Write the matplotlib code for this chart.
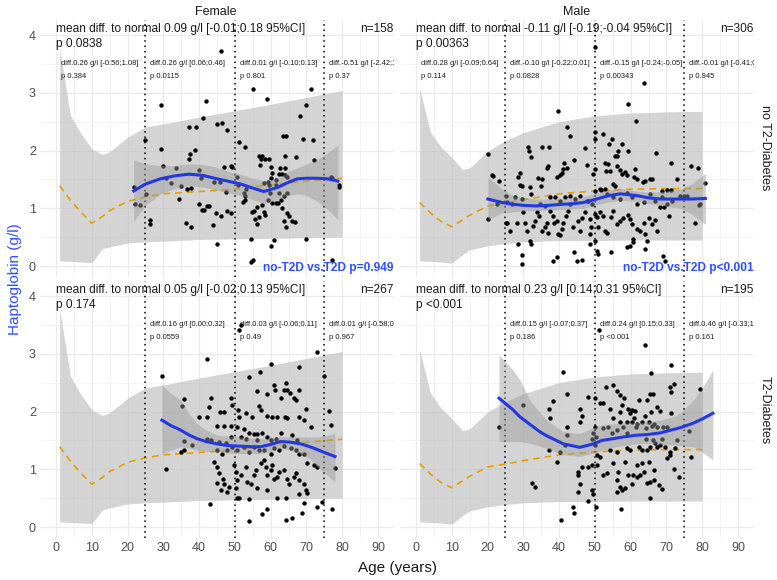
import numpy as np
import matplotlib
matplotlib.use("Agg")
import matplotlib.pyplot as plt
from matplotlib.ticker import MultipleLocator

plt.rcParams['font.family'] = ['Liberation Sans', 'DejaVu Sans']

# ---- reference (normal population) curves ----
ref_age = [1, 4, 7, 10, 13, 15, 20, 25, 30, 40, 50, 60, 70, 80]
ref_f_med = [1.39, 1.14, 0.93, 0.74, 0.86, 0.96, 1.12, 1.20, 1.25, 1.29, 1.33, 1.41, 1.47, 1.52]
ref_f_lo = [0.09, 0.08, 0.07, 0.06, 0.30, 0.33, 0.40, 0.42, 0.43, 0.46, 0.47, 0.48, 0.49, 0.50]
ref_f_hi = [3.77, 2.61, 2.29, 2.03, 1.93, 1.98, 2.23, 2.41, 2.46, 2.58, 2.69, 2.80, 2.92, 3.04]
ref_m_med = [1.10, 0.92, 0.77, 0.68, 0.80, 0.88, 1.04, 1.09, 1.15, 1.25, 1.30, 1.33, 1.34, 1.34]
ref_m_lo = [0.09, 0.08, 0.07, 0.05, 0.20, 0.28, 0.35, 0.39, 0.42, 0.44, 0.44, 0.45, 0.45, 0.45]
ref_m_hi = [3.07, 2.32, 2.06, 1.88, 1.67, 1.70, 1.99, 2.17, 2.31, 2.50, 2.60, 2.65, 2.67, 2.68]

# ---- loess fits with CI ----
fit_f0_age = [21.7, 25, 29.2, 33, 37.1, 41, 45, 48, 51.6, 55, 58.1, 61.9, 65, 67.5, 70, 73.1, 76, 78.8]
fit_f0 = [1.30, 1.42, 1.51, 1.56, 1.59, 1.57, 1.51, 1.47, 1.42, 1.35, 1.29, 1.36, 1.45, 1.51, 1.52, 1.52, 1.51, 1.47]
fit_f0_hi = [1.84, 1.77, 1.74, 1.74, 1.77, 1.76, 1.71, 1.64, 1.59, 1.52, 1.48, 1.52, 1.64, 1.70, 1.76, 1.85, 1.96, 2.10]
fit_f0_lo = [0.78, 1.05, 1.25, 1.34, 1.39, 1.37, 1.31, 1.27, 1.22, 1.15, 1.08, 1.15, 1.22, 1.25, 1.22, 1.12, 0.98, 0.80]

fit_m0_age = [20.1, 24, 27.1, 30, 33.7, 37, 41.2, 44, 46.8, 50.5, 54, 57.1, 61.7, 65, 68.3, 73.9, 77, 80.9]
fit_m0 = [1.16, 1.10, 1.07, 1.05, 1.04, 1.05, 1.07, 1.08, 1.10, 1.16, 1.22, 1.25, 1.22, 1.18, 1.16, 1.16, 1.16, 1.17]
fit_m0_hi = [1.54, 1.34, 1.22, 1.18, 1.16, 1.16, 1.17, 1.18, 1.20, 1.27, 1.32, 1.34, 1.30, 1.28, 1.29, 1.33, 1.42, 1.61]
fit_m0_lo = [0.80, 0.92, 0.94, 0.95, 0.96, 0.97, 0.98, 0.99, 1.00, 1.06, 1.11, 1.14, 1.12, 1.08, 1.05, 1.00, 0.90, 0.72]

fit_f1_age = [29.6, 32, 34.8, 37, 39.4, 42, 45, 48, 51.6, 55, 57.2, 60, 62.8, 65.5, 68.4, 71, 73.1, 75.5, 78]
fit_f1 = [1.85, 1.76, 1.68, 1.60, 1.53, 1.48, 1.44, 1.41, 1.40, 1.39, 1.39, 1.43, 1.48, 1.47, 1.44, 1.39, 1.34, 1.28, 1.22]
fit_f1_hi = [2.46, 2.32, 2.20, 1.98, 1.79, 1.68, 1.59, 1.57, 1.56, 1.54, 1.53, 1.54, 1.56, 1.56, 1.56, 1.56, 1.56, 1.58, 1.62]
fit_f1_lo = [1.27, 1.33, 1.39, 1.37, 1.33, 1.31, 1.30, 1.28, 1.27, 1.27, 1.27, 1.31, 1.36, 1.33, 1.27, 1.18, 1.04, 0.92, 0.78]

fit_m1_age = [23.2, 27.1, 29.0, 31.8, 34.6, 36.5, 41.2, 45.8, 49.6, 52, 55.2, 58, 61.7, 64.5, 68.3, 72, 73.9, 77.6, 80, 83.0]
fit_m1 = [2.23, 2.03, 1.91, 1.78, 1.65, 1.58, 1.44, 1.38, 1.44, 1.50, 1.53, 1.56, 1.59, 1.60, 1.63, 1.69, 1.72, 1.80, 1.87, 1.97]
fit_m1_hi = [2.98, 2.72, 2.55, 2.20, 1.98, 1.85, 1.65, 1.62, 1.72, 1.77, 1.79, 1.80, 1.81, 1.82, 1.85, 1.91, 1.98, 2.20, 2.40, 2.72]
fit_m1_lo = [1.48, 1.48, 1.48, 1.45, 1.40, 1.36, 1.25, 1.22, 1.28, 1.33, 1.38, 1.41, 1.44, 1.45, 1.43, 1.42, 1.41, 1.39, 1.30, 1.16]

# ---- observations (age, haptoglobin) ----
f0_age = [46.0, 29.2, 41.8, 55.0, 59.1, 71.3, 70.0, 68.2, 41.1, 37.1, 39.0, 45.0, 46.3, 47.8, 25.0, 63.5, 64.2, 69.1,
          71.9, 51.1, 52.8, 29.2, 38.8, 37.4, 37.1, 56.8, 57.6, 58.5, 59.5, 57.2, 57.1, 64.0, 67.0, 72.2, 29.8, 33.4,
          39.9, 46.9, 48.8, 60.0, 60.4, 62.5, 64.0, 62.3, 63.2, 64.0, 64.5, 76.8, 79.1, 21.7, 22.1, 23.5, 26.4, 26.2,
          25.2, 34.8, 37.6, 39.9, 40.8, 41.5, 42.2, 34.3, 36.2, 37.8, 44.6, 46.0, 43.9, 47.7, 48.8, 44.9, 45.7, 47.4,
          52.6, 52.9, 52.7, 52.4, 53.0, 55.4, 54.9, 56.3, 57.7, 58.1, 55.6, 56.8, 56.3, 58.3, 59.3, 60.4, 61.4, 59.9,
          60.2, 61.4, 61.4, 62.3, 63.7, 62.9, 64.6, 62.0, 63.2, 64.5, 65.2, 66.1, 66.8, 63.8, 64.3, 54.4, 60.0, 60.9,
          69.8, 54.4, 55.2, 77.1, 77.2, 79.0, 59.2, 59.6, 58.2, 50.5, 51.0, 49.2, 30.6, 32.2, 36.6, 40.4, 44.1, 42.7]
f0_hp = [3.73, 2.78, 2.86, 3.06, 2.90, 3.07, 2.78, 2.60, 2.56, 2.41, 2.41, 2.46, 2.47, 2.35, 2.19, 2.26, 2.25, 2.20,
         2.19, 2.14, 2.06, 2.03, 2.01, 1.94, 1.86, 1.91, 1.91, 1.86, 1.85, 1.86, 1.75, 1.90, 1.88, 1.83, 1.74, 1.69,
         1.66, 1.71, 1.73, 1.71, 1.61, 1.70, 1.70, 1.59, 1.59, 1.58, 1.55, 1.55, 1.40, 1.36, 1.08, 1.06, 0.79, 0.72,
         1.25, 1.39, 1.35, 1.07, 0.97, 0.97, 1.04, 1.16, 0.74, 0.67, 0.91, 0.87, 0.71, 0.96, 0.91, 0.38, 1.45, 1.28,
         1.27, 1.21, 1.15, 1.10, 1.34, 0.96, 0.93, 1.02, 1.05, 0.93, 0.82, 0.85, 0.73, 0.89, 1.15, 1.09, 1.09, 1.26,
         1.52, 1.49, 1.40, 1.27, 1.22, 1.15, 1.27, 1.09, 1.00, 0.92, 0.87, 0.78, 0.77, 0.78, 0.68, 0.46, 0.35, 0.45,
         0.46, 0.07, 0.10, 0.10, 1.52, 1.36, 1.45, 1.41, 1.43, 1.54, 1.40, 1.71, 1.52, 1.43, 1.33, 1.53, 1.45, 1.04]

m0_age = [50.0, 63.6, 59.2, 61.5, 39.6, 42.3, 43.0, 50.0, 50.0, 52.4, 54.9, 54.0, 57.5, 56.6, 55.7, 56.3, 59.4, 67.1,
          71.3, 76.9, 78.7, 80.9, 20.1, 21.4, 31.4, 31.6, 32.1, 35.1, 37.1, 29.0, 28.5, 29.0, 29.5, 31.8, 32.1, 34.2,
          35.1, 34.8, 36.5, 37.0, 39.3, 40.7, 41.0, 40.2, 41.4, 42.1, 44.2, 47.2, 47.7, 49.6, 50.0, 52.8, 53.8, 53.1,
          54.2, 56.1, 56.9, 57.5, 58.5, 58.9, 55.2, 55.7, 52.8, 51.6, 61.3, 61.0, 61.7, 63.4, 64.1, 65.5, 66.1, 73.0,
          68.7, 70.3, 71.3, 74.8, 79.0, 78.1, 20.1,
          25.3, 26.2, 28.1, 28.5, 29.5, 30.4, 30.9, 31.8, 32.1, 32.8, 33.2, 33.7, 34.4, 35.1, 36.0, 36.5, 37.0, 37.4,
          38.4, 38.5, 39.3, 39.8, 40.2, 40.7, 41.2, 41.9, 42.6, 43.0, 44.0, 45.4, 45.8, 46.3, 47.2, 48.0, 48.6, 48.9,
          48.6, 49.9, 50.7, 51.0, 50.0, 51.4, 52.4, 52.8, 53.3, 54.4, 55.2, 56.3, 57.1, 58.0, 59.4, 59.9, 60.3, 60.8,
          60.6, 58.9, 59.7, 61.7, 62.7, 63.6, 64.1, 64.5, 63.9, 65.0, 65.9, 66.9, 67.3, 68.3, 69.4, 70.6, 69.0, 69.7,
          39.3, 38.2, 44.2, 44.9, 46.3, 48.6, 50.5, 51.0, 54.4,
          25.3, 26.7, 27.6, 29.5, 30.0, 34.6, 36.0, 37.4, 38.8, 40.2, 41.6, 43.0, 44.4, 45.8, 47.7, 49.1, 50.0, 51.4,
          53.3, 55.2, 57.1, 58.9, 60.3, 61.7, 63.6, 65.5, 66.9, 68.7, 70.1, 71.5, 73.9, 75.7, 79.5,
          21.1, 23.2, 22.5, 25.1, 25.1, 29.5]
m0_hp = [3.80, 3.17, 2.81, 2.51, 2.68, 2.41, 2.26, 2.32, 2.20, 2.28, 2.20, 2.12, 2.12, 2.00, 1.91, 1.90, 1.99, 1.96,
         1.78, 1.73, 1.70, 1.44, 1.94, 1.56, 2.06, 2.00, 1.88, 2.06, 2.06, 1.61, 1.54, 1.41, 1.39, 1.36, 1.25, 1.52,
         1.51, 1.38, 1.70, 1.74, 1.54, 1.61, 1.68, 1.58, 1.79, 1.70, 1.84, 2.04, 1.75, 1.59, 1.68, 1.78, 1.77, 1.65,
         1.64, 1.74, 1.66, 1.59, 1.62, 1.57, 1.42, 1.39, 1.33, 1.32, 1.68, 1.54, 1.51, 1.45, 1.48, 1.51, 1.51, 1.50,
         1.30, 1.32, 1.32, 1.21, 1.06, 0.75, 0.81,
         0.75, 0.61, 0.74, 0.38, 0.19, 0.75, 0.61, 0.43, 0.38, 0.70, 0.78, 0.93, 0.87, 0.61, 0.67, 0.74, 0.58, 0.96,
         0.87, 0.75, 0.78, 0.55, 0.54, 0.64, 0.75, 0.87, 0.96, 1.07, 0.67, 0.78, 0.61, 0.84, 0.93, 1.13, 0.81, 0.67,
         0.55, 0.90, 0.85, 0.67, 0.44, 0.93, 0.87, 0.61, 0.58, 0.85, 0.96, 0.72, 0.78, 0.84, 0.89, 0.81, 0.72, 0.46,
         0.41, 0.33, 0.35, 0.64, 0.61, 0.74, 0.55, 0.44, 0.29, 0.84, 0.72, 0.79, 0.61, 1.03, 1.02, 0.87, 0.17, 0.09,
         0.15, 0.09, 0.25, 0.09, 0.10, 0.38, 0.26, 0.21, 0.25,
         1.10, 1.07, 1.19, 1.16, 0.93, 1.07, 1.04, 1.19, 1.19, 1.13, 1.19, 1.22, 1.16, 1.22, 1.13, 1.07, 1.30, 1.33,
         1.25, 1.19, 1.16, 1.27, 1.19, 1.07, 1.10, 1.25, 1.13, 1.19, 1.07, 1.13, 1.22, 1.22, 1.07,
         1.57, 1.48, 1.07, 1.22, 0.75, 0.03]

f1_age = [29.6, 30.8, 42.1, 51.1, 51.6, 73.1, 75.0, 60.0, 68.0, 57.0, 53.9, 64.2, 63.7, 64.7, 65.4, 63.0, 66.5, 67.0,
          68.0, 61.0, 61.1, 59.1, 56.1, 48.8, 43.2, 42.7, 35.9, 35.2, 39.9, 42.1, 45.8, 46.9, 49.3, 50.8, 51.1, 53.0,
          54.9, 56.7, 57.2, 59.1, 60.5, 61.9, 63.9, 64.7, 68.0, 69.8, 69.4, 71.2, 76.4, 77.0, 45.0, 46.9, 48.8, 50.7,
          52.5, 53.9, 55.3, 56.3, 57.7, 59.1, 60.0, 61.4, 62.8, 66.1, 67.5, 35.7, 42.2, 43.2, 34.8, 35.9, 38.0, 44.1,
          45.0, 46.5, 47.9, 49.3, 50.7, 52.5, 53.9, 55.3, 56.7, 58.1, 60.0, 61.0, 62.3, 63.7, 65.6, 67.0, 68.0, 69.4,
          70.3, 72.2, 73.1, 78.0, 45.0, 45.5, 46.7, 46.9, 49.7, 50.2, 50.7, 51.6, 53.0, 53.5, 54.4, 55.3, 55.8, 57.2,
          58.1, 58.6, 59.1, 60.0, 60.5, 61.0, 61.9, 62.3, 63.7, 64.7, 65.1, 66.5, 67.0, 68.0, 69.2, 69.8, 70.1, 44.9,
          46.0, 48.3, 47.9, 50.2, 50.5, 51.1, 53.9, 56.3, 58.9, 61.9, 64.2, 68.0, 43.0, 53.9, 57.7, 59.1, 64.2, 66.1,
          68.9, 69.4, 74.5, 73.1, 77.1, 48.8, 51.6, 53.0, 56.3, 45.5, 47.4]
f1_hp = [2.61, 1.01, 2.91, 3.41, 3.49, 3.03, 2.61, 2.82, 2.77, 2.68, 2.59, 2.49, 2.37, 2.38, 2.32, 2.23, 2.23, 2.20,
         2.37, 2.46, 2.37, 2.31, 2.35, 2.23, 2.24, 2.07, 2.21, 2.10, 1.90, 1.91, 2.00, 2.00, 2.11, 2.02, 1.91, 1.97,
         1.91, 2.09, 2.02, 1.92, 1.91, 1.91, 1.91, 1.88, 1.91, 2.05, 1.85, 1.74, 2.01, 1.77, 1.75, 1.75, 1.75, 1.73,
         1.69, 1.62, 1.61, 1.61, 1.62, 1.56, 1.50, 1.53, 1.62, 1.59, 1.50, 1.49, 1.52, 1.50, 1.30, 1.34, 1.42, 1.13,
         1.33, 1.27, 1.33, 1.39, 1.33, 1.39, 1.30, 1.39, 1.33, 1.34, 1.27, 1.36, 1.33, 1.40, 1.36, 1.33, 1.27, 1.27,
         1.10, 1.07, 1.04, 1.03, 1.04, 0.93, 0.84, 0.75, 1.07, 0.96, 0.81, 0.90, 1.04, 0.78, 0.75, 0.90, 0.99, 1.10,
         1.16, 1.04, 0.90, 0.99, 1.07, 0.84, 0.87, 0.96, 0.99, 0.84, 0.75, 0.87, 0.93, 0.81, 0.75, 0.64, 0.59, 0.77,
         0.64, 0.70, 0.61, 0.67, 0.51, 0.51, 0.48, 0.67, 0.64, 0.51, 0.51, 0.57, 0.40, 0.10, 0.22, 0.32, 0.12, 0.15,
         0.25, 0.41, 0.44, 0.34, 0.31, 1.56, 1.56, 1.53, 1.50, 1.48, 1.45]

m1_age = [51.2, 64.1, 71.3, 65.7, 41.2, 79.3, 71.1, 72.2, 71.3, 42.1, 38.2, 37.2, 37.4, 29.8, 23.1, 48.2, 45.8, 46.3,
          50.0, 53.1, 55.2, 56.1, 57.1, 58.2, 51.4, 52.4, 54.2, 55.2, 57.1, 57.5, 59.4, 60.3, 61.3, 59.9, 61.0, 62.2,
          64.5, 65.3, 66.2, 67.3, 68.3, 65.7, 64.1, 65.0, 66.4, 58.9, 60.3, 57.1, 58.0, 61.7, 63.1, 71.3, 42.3, 42.1,
          45.8, 49.4, 50.0, 52.4, 53.8, 54.7, 56.1, 58.9, 61.5, 64.3, 65.9, 67.3, 69.0, 70.1, 64.3, 66.2, 68.7, 72.9,
          76.2, 49.1, 50.3, 50.0, 37.1, 40.2, 41.6, 39.5, 50.5, 51.3, 54.2, 56.1, 58.9, 59.9, 62.2, 63.1, 64.5, 65.5,
          66.9, 67.3, 68.3, 69.7, 71.1, 72.5, 70.9, 70.1, 76.9, 45.2, 45.4, 46.3, 48.2, 49.1, 50.5, 52.4, 53.3, 55.2,
          56.6, 58.5, 59.4, 60.8, 61.9, 63.1, 63.6, 65.0, 66.4, 64.5, 65.5, 66.4, 67.8, 68.7, 72.2, 73.4, 45.7, 45.4,
          49.1, 49.6, 48.2, 50.3, 56.1, 56.9, 57.5, 56.3, 58.5, 60.3, 61.7, 62.5, 32.3, 33.2, 43.8, 44.2, 40.5, 57.2,
          65.3]
m1_hp = [3.41, 3.16, 2.80, 2.66, 2.69, 2.39, 2.42, 2.47, 2.34, 2.31, 2.19, 2.04, 1.89, 2.11, 1.74, 2.25, 2.05, 1.92,
         2.24, 2.42, 2.46, 2.36, 2.28, 2.24, 2.14, 2.14, 2.05, 1.88, 1.99, 2.11, 2.05, 2.02, 2.01, 1.97, 1.88, 2.20,
         2.20, 2.30, 2.30, 2.08, 2.01, 2.00, 1.92, 1.82, 1.79, 1.82, 1.82, 1.82, 1.74, 1.79, 1.82, 1.98, 1.74, 1.59,
         1.82, 1.62, 1.74, 1.71, 1.74, 1.62, 1.68, 1.62, 1.74, 1.71, 1.75, 1.74, 1.74, 1.74, 1.53, 1.50, 1.53, 1.50,
         1.67, 1.53, 1.56, 1.42, 1.33, 1.30, 1.42, 1.13, 1.25, 1.22, 1.33, 1.30, 1.36, 1.33, 1.39, 1.33, 1.33, 1.39,
         1.45, 1.39, 1.42, 1.39, 1.30, 1.36, 1.25, 1.19, 1.22, 0.96, 0.90, 1.04, 1.04, 1.07, 1.07, 0.90, 0.93, 1.10,
         0.96, 1.13, 0.90, 0.90, 1.07, 1.10, 0.96, 1.13, 0.99, 0.77, 0.78, 0.81, 0.73, 0.65, 1.01, 0.87, 0.74, 0.60,
         0.64, 0.58, 0.45, 0.35, 0.81, 0.70, 0.64, 0.60, 0.67, 0.75, 0.87, 0.90, 0.77, 0.69, 0.34, 0.25, 0.12, 0.32,
         0.51]

# ---- annotation texts ----
mean_txt = ["mean diff. to normal 0.09 g/l [-0.01;0.18 95%CI]", "mean diff. to normal -0.11 g/l [-0.19;-0.04 95%CI]",
            "mean diff. to normal 0.05 g/l [-0.02;0.13 95%CI]", "mean diff. to normal 0.23 g/l [0.14;0.31 95%CI]"]
mean_p = ["p 0.0838", "p 0.00363", "p 0.174", "p <0.001"]
n_txt = ["n=158", "n=306", "n=267", "n=195"]
grp_start = [0, 25, 50, 75]
diff_txt = [
    ["diff.0.26 g/l [-0.56;1.08]", "diff.0.26 g/l [0.06;0.46]", "diff.0.01 g/l [-0.10;0.13]", "diff.-0.51 g/l [-2.42;1.40]"],
    ["diff.0.28 g/l [-0.09;0.64]", "diff.-0.10 g/l [-0.22;0.01]", "diff.-0.15 g/l [-0.24;-0.05]", "diff.-0.01 g/l [-0.41;0.39]"],
    [None, "diff.0.16 g/l [0.00;0.32]", "diff.0.03 g/l [-0.06;0.11]", "diff.0.01 g/l [-0.58;0.60]"],
    [None, "diff.0.15 g/l [-0.07;0.37]", "diff.0.24 g/l [0.15;0.33]", "diff.0.46 g/l [-0.33;1.25]"],
]
diff_p = [["p 0.384", "p 0.0115", "p 0.801", "p 0.37"],
          ["p 0.114", "p 0.0828", "p 0.00343", "p 0.945"],
          [None, "p 0.0559", "p 0.49", "p 0.967"],
          [None, "p 0.186", "p <0.001", "p 0.161"]]
cmp_txt = ["no-T2D vs.T2D p=0.949", "no-T2D vs.T2D p<0.001"]

BLUE = '#2438E0'
TXTBLUE = '#3050F5'

fig = plt.figure(figsize=(7.77, 5.8), dpi=100)
boxes = [(40, 20), (400, 20), (40, 281), (400, 281)]
panels = [
    (f0_age, f0_hp, ref_f_med, ref_f_lo, ref_f_hi, fit_f0_age, fit_f0, fit_f0_lo, fit_f0_hi),
    (m0_age, m0_hp, ref_m_med, ref_m_lo, ref_m_hi, fit_m0_age, fit_m0, fit_m0_lo, fit_m0_hi),
    (f1_age, f1_hp, ref_f_med, ref_f_lo, ref_f_hi, fit_f1_age, fit_f1, fit_f1_lo, fit_f1_hi),
    (m1_age, m1_hp, ref_m_med, ref_m_lo, ref_m_hi, fit_m1_age, fit_m1, fit_m1_lo, fit_m1_hi),
]

for i, (bx, by) in enumerate(boxes):
    ax = fig.add_axes([bx / 777, 1 - (by + 257) / 580, 354 / 777, 257 / 580])
    age, hp, rmed, rlo, rhi, fa, fv, flo, fhi = panels[i]

    ax.fill_between(ref_age, rlo, rhi, color='#BEBEBE', alpha=0.65, lw=0, zorder=1)
    ax.plot(ref_age, rmed, color='#E69F00', ls=(0, (4, 3)), lw=1.2, zorder=2)
    for g in [25, 50, 75]:
        ax.axvline(g, color='black', ls=(0, (1, 2.5)), lw=1.1, zorder=2)
    ax.scatter(age, hp, s=10, color='black', lw=0, zorder=3)
    ax.fill_between(fa, flo, fhi, color='#999999', alpha=0.45, lw=0, zorder=4)
    ax.plot(fa, fv, color=BLUE, lw=2.2, zorder=5)

    ax.set_xlim(-4.5, 94.5)
    ax.set_ylim(-0.19, 4.26)
    ax.xaxis.set_major_locator(MultipleLocator(10))
    ax.xaxis.set_minor_locator(MultipleLocator(5))
    ax.yaxis.set_major_locator(MultipleLocator(1))
    ax.yaxis.set_minor_locator(MultipleLocator(0.5))
    ax.grid(which='major', color='#EBEBEB', lw=0.9, zorder=0)
    ax.grid(which='minor', color='#F2F2F2', lw=0.6, zorder=0)
    ax.set_axisbelow(True)
    for s in ax.spines.values():
        s.set_visible(False)
    ax.tick_params(which='both', length=0, labelsize=9, labelcolor='#4D4D4D', pad=3)
    if i % 2 == 1:
        ax.tick_params(labelleft=False)
    if i < 2:
        ax.tick_params(labelbottom=False)

    ax.text(0, 4.1, mean_txt[i], fontsize=8.6, va='center', ha='left', color='#1A1A1A', zorder=6)
    ax.text(0, 3.84, mean_p[i], fontsize=8.6, va='center', ha='left', color='#1A1A1A', zorder=6)
    ax.text(94.3, 4.1, n_txt[i], fontsize=8.6, va='center', ha='right', color='#1A1A1A', zorder=6)
    for j, g in enumerate(grp_start):
        if diff_txt[i][j] is None:
            continue
        ax.text(g + 1.3, 3.51, diff_txt[i][j], fontsize=5.4, va='center', ha='left',
                color='#1A1A1A', clip_on=True, zorder=6)
        ax.text(g + 1.3, 3.29, diff_p[i][j], fontsize=5.4, va='center', ha='left',
                color='#1A1A1A', clip_on=True, zorder=6)
    if i < 2:
        ax.text(94.3, -0.03, cmp_txt[i], fontsize=8.6, fontweight='bold', va='center', ha='right',
                color=TXTBLUE, zorder=6)

fig.text(216 / 777, 1 - 12 / 580, "Female", ha='center', va='center', fontsize=9, color='#1A1A1A')
fig.text(577 / 777, 1 - 12 / 580, "Male", ha='center', va='center', fontsize=9, color='#1A1A1A')
fig.text(765 / 777, 1 - 148 / 580, "no T2-Diabetes", ha='center', va='center', rotation=270, fontsize=9,
         color='#1A1A1A')
fig.text(765 / 777, 1 - 410 / 580, "T2-Diabetes", ha='center', va='center', rotation=270, fontsize=9,
         color='#1A1A1A')
fig.text(15 / 777, 1 - 279 / 580, "Haptoglobin (g/l)", ha='center', va='center', rotation=90, fontsize=11,
         color=TXTBLUE)
fig.text(397 / 777, 1 - 568 / 580, "Age (years)", ha='center', va='center', fontsize=11, color='#1A1A1A')

fig.savefig("out.png", dpi=100)
